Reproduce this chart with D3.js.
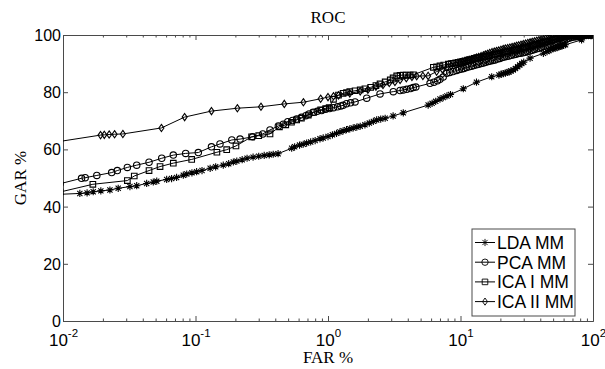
<!DOCTYPE html>
<html>
<head>
<meta charset="utf-8">
<title>ROC</title>
<script src="https://cdn.jsdelivr.net/npm/d3@7"></script>
<style>
  body { margin: 0; background: #fff; }
  svg { display: block; }
</style>
</head>
<body>
<div id="chart"></div>
<script>
// series: [FAR %, GAR %]
var ldaMM = [[0.0095, 44.3], [0.0134, 44.6], [0.0152, 44.8], [0.0169, 45.2], [0.0193, 45.5], [0.0226, 45.8],
  [0.0261, 46.4], [0.032, 47.0], [0.036, 47.3], [0.0428, 48.1], [0.048, 48.6], [0.051, 48.9], [0.0606, 49.5],
  [0.066, 49.8], [0.072, 50.2], [0.0809, 51.0], [0.0859, 51.4], [0.094, 51.8], [0.102, 52.2], [0.112, 52.6],
  [0.129, 53.4], [0.142, 53.9], [0.162, 54.5], [0.178, 55.0], [0.193, 55.6], [0.205, 55.9], [0.225, 56.4],
  [0.245, 56.9], [0.272, 57.3], [0.30, 57.6], [0.33, 57.9], [0.36, 58.1], [0.386, 58.3], [0.42, 58.5],
  [0.532, 60.4], [0.56, 60.9], [0.61, 61.5], [0.65, 61.8], [0.69, 62.2], [0.74, 62.6], [0.80, 63.1],
  [0.87, 63.7], [0.92, 64.0], [1.0, 64.5], [1.08, 65.1], [1.16, 65.6], [1.23, 66.1], [1.30, 66.5],
  [1.38, 66.9], [1.46, 67.2], [1.55, 67.5], [1.65, 67.8], [1.75, 68.1], [1.9, 68.6], [2.05, 69.2],
  [2.2, 69.8], [2.33, 70.3], [2.5, 70.6], [2.7, 70.9], [3.1, 71.7], [3.7, 72.8], [5.7, 75.5], [6.1, 76.1],
  [6.5, 76.8], [7.0, 77.6], [7.4, 78.1], [7.9, 78.7], [8.4, 79.2], [10.5, 81.2], [13.2, 83.5], [17.2, 85.4],
  [19.5, 86.0], [20.3, 86.3], [21.0, 86.5], [21.8, 86.7], [22.5, 86.9], [23.2, 87.1], [24.0, 87.4],
  [25.0, 87.8], [26.0, 88.3], [27.0, 88.9], [28.0, 89.5], [29.0, 90.0], [30.0, 90.5], [33.5, 91.9],
  [42.2, 93.6], [45.0, 94.2], [46.5, 94.6], [48.0, 94.9], [50.0, 95.2], [51.6, 95.4], [53.5, 95.6],
  [55.0, 95.8], [56.5, 96.0], [58.0, 96.2], [60.0, 96.4], [62.0, 96.6], [82.0, 98.3], [97.8, 99.8], [105, 100]];

var pcaMM = [[0.0095, 48.0], [0.0138, 49.9], [0.0147, 50.1], [0.018, 50.9], [0.0233, 51.9], [0.0257, 52.6],
  [0.0306, 53.7], [0.036, 54.5], [0.0446, 55.5], [0.0556, 56.9], [0.068, 58.0], [0.0843, 58.6], [0.105, 58.9],
  [0.132, 60.9], [0.153, 61.9], [0.188, 63.3], [0.217, 63.6], [0.27, 64.4], [0.322, 65.4], [0.365, 66.8],
  [0.422, 68.2], [0.46, 68.8], [0.497, 69.7], [0.54, 70.1], [0.58, 70.6], [0.63, 71.2], [0.68, 71.8],
  [0.72, 72.4], [0.774, 73.0], [0.83, 73.3], [0.895, 73.6], [0.96, 74.0], [1.03, 74.3], [1.10, 74.6],
  [1.18, 74.9], [1.25, 75.2], [1.30, 75.4], [1.38, 76.0], [1.48, 76.3], [1.60, 76.6], [1.96, 77.9],
  [2.47, 79.4], [3.11, 80.2], [3.5, 80.6], [3.7, 80.8], [3.93, 81.0], [4.2, 81.3], [4.4, 81.6], [4.6, 81.8],
  [5.89, 83.1], [6.3, 83.5], [6.7, 84.0], [7.0, 84.5], [7.4, 85.3], [7.87, 86.6], [8.3, 86.9], [8.8, 87.2],
  [9.35, 87.6], [9.8, 87.9], [10.2, 88.1], [10.6, 88.3], [11.1, 88.6], [11.6, 88.9], [12.1, 89.1],
  [12.6, 89.3], [13.2, 89.6], [13.7, 89.8], [14.3, 90.0], [14.9, 90.2], [15.5, 90.5], [16.2, 90.7],
  [16.8, 90.9], [17.5, 91.1], [18.2, 91.3], [19.0, 91.6], [19.8, 91.8], [20.6, 92.1], [21.4, 92.3],
  [22.3, 92.5], [23.2, 92.7], [24.2, 92.9], [25.2, 93.1], [26.2, 93.3], [27.3, 93.5], [28.4, 93.6],
  [29.6, 93.8], [30.8, 94.0], [32.0, 94.2], [33.3, 94.4], [34.7, 94.7], [36.1, 94.9], [37.6, 95.2],
  [39.1, 95.4], [40.7, 95.7], [42.4, 96.0], [44.1, 96.2], [45.9, 96.5], [47.8, 96.8], [49.8, 97.1],
  [51.8, 97.4], [53.9, 97.6], [56.1, 97.9], [58.4, 98.2], [60.8, 98.4], [63.3, 98.6], [65.9, 98.9],
  [68.6, 99.1], [71.4, 99.3], [74.3, 99.4], [77.4, 99.5], [80.5, 99.6], [83.8, 99.8], [87.3, 99.9],
  [90.8, 100], [94.6, 100], [98.4, 100], [105, 100]];

var icaIMM = [[0.0095, 45.1], [0.0168, 47.8], [0.0306, 49.1], [0.0345, 50.7], [0.0446, 52.6], [0.054, 54.0],
  [0.068, 55.2], [0.0936, 56.5], [0.145, 59.0], [0.172, 59.9], [0.202, 61.2], [0.265, 64.4], [0.30, 64.8],
  [0.365, 65.4], [0.43, 67.9], [0.48, 68.6], [0.53, 69.5], [0.58, 70.3], [0.63, 70.9], [0.71, 72.0],
  [0.78, 72.9], [0.88, 73.8], [0.96, 74.3], [1.02, 74.6], [1.10, 77.5], [1.2, 79.0], [1.30, 79.6],
  [1.38, 79.9], [1.46, 80.2], [1.6, 80.5], [1.75, 80.8], [1.9, 81.2], [2.10, 81.7], [2.3, 82.3],
  [2.47, 82.9], [2.7, 83.6], [2.95, 84.3], [3.1, 85.0], [3.3, 85.7], [3.5, 85.9], [3.7, 86.0], [3.9, 86.0],
  [4.17, 86.0], [4.4, 86.1], [6.24, 88.7], [6.6, 88.9], [7.0, 89.2], [7.47, 89.5], [8.1, 89.8], [8.5, 90.0],
  [8.8, 90.1], [9.2, 90.3], [9.6, 90.4], [10.0, 90.6], [10.4, 90.8], [10.8, 91.0], [11.3, 91.2],
  [11.7, 91.4], [12.2, 91.6], [12.7, 91.8], [13.2, 92.0], [13.7, 92.1], [14.3, 92.3], [14.9, 92.4],
  [15.4, 92.5], [16.0, 92.6], [16.6, 92.8], [17.3, 93.0], [18.0, 93.2], [18.7, 93.3], [19.4, 93.5],
  [20.2, 93.7], [21.0, 93.9], [21.8, 94.0], [22.7, 94.2], [23.6, 94.4], [24.5, 94.5], [25.5, 94.7],
  [26.5, 94.8], [27.5, 95.0], [28.6, 95.2], [29.8, 95.4], [31.0, 95.6], [32.2, 95.8], [33.5, 96.0],
  [34.8, 96.2], [36.2, 96.5], [37.6, 96.7], [39.1, 96.9], [40.6, 97.1], [42.2, 97.4], [43.9, 97.6],
  [45.6, 97.8], [47.4, 98.0], [49.3, 98.3], [51.3, 98.5], [53.3, 98.7], [55.4, 98.9], [57.6, 99.1],
  [60.0, 99.3], [62.4, 99.4], [65.0, 99.6], [67.6, 99.7], [70.3, 99.8], [73.1, 99.9], [76.0, 99.9],
  [79.0, 100], [82.2, 100], [85.5, 100], [89.0, 100], [92.5, 100], [96.2, 100], [105, 100]];

var icaIIMM = [[0.0095, 62.8], [0.0192, 65.0], [0.0205, 65.1], [0.0223, 65.2], [0.0245, 65.3], [0.0283, 65.4],
  [0.0553, 67.5], [0.0828, 71.3], [0.132, 73.4], [0.207, 74.4], [0.312, 74.9], [0.468, 75.9], [0.652, 76.5],
  [0.88, 77.7], [1.0, 78.3], [1.1, 78.6], [1.2, 78.9], [1.46, 79.6], [1.75, 80.3], [2.0, 80.9], [2.3, 81.9],
  [2.6, 82.5], [2.9, 83.2], [3.2, 83.6], [3.5, 84.3], [3.9, 84.9], [4.3, 85.3], [4.67, 85.6], [5.2, 85.7],
  [5.7, 85.7], [6.6, 87.2], [7.3, 88.0], [7.9, 88.7], [8.5, 89.2], [9.2, 89.7], [10.0, 90.2], [10.4, 90.5],
  [10.8, 90.7], [11.3, 91.0], [11.7, 91.2], [12.2, 91.5], [12.7, 91.8], [13.2, 92.1], [13.7, 92.3],
  [14.3, 92.6], [14.9, 92.9], [15.4, 93.2], [16.0, 93.4], [16.6, 93.7], [17.3, 94.0], [18.0, 94.2],
  [18.7, 94.4], [19.4, 94.6], [20.2, 94.8], [21.0, 95.1], [21.8, 95.3], [22.7, 95.4], [23.6, 95.6],
  [24.5, 95.8], [25.5, 96.0], [26.5, 96.2], [27.5, 96.4], [28.6, 96.6], [29.8, 96.8], [31.0, 97.0],
  [32.2, 97.2], [33.5, 97.4], [34.8, 97.6], [36.2, 97.8], [37.6, 98.0], [39.1, 98.2], [40.6, 98.3],
  [42.2, 98.5], [43.9, 98.7], [45.6, 98.8], [47.4, 99.0], [49.3, 99.1], [51.3, 99.2], [53.3, 99.4],
  [55.4, 99.5], [57.6, 99.6], [60.0, 99.7], [62.4, 99.8], [65.0, 99.9], [67.6, 99.9], [70.3, 100],
  [73.1, 100], [76.0, 100], [79.0, 100], [82.2, 100], [85.5, 100], [89.0, 100], [92.5, 100], [96.2, 100],
  [105, 100]];

var seriesNames = ["LDA MM", "PCA MM", "ICA I MM", "ICA II MM"];
var seriesData = [ldaMM, pcaMM, icaIMM, icaIIMM];
var seriesMarkers = ["star", "circle", "square", "diamond"];

var xMajorTicks = [0.01, 0.1, 1, 10, 100];
var xTickExponents = ["-2", "-1", "0", "1", "2"];
var yTicks = [0, 20, 40, 60, 80, 100];

var width = 605, height = 369;
var margin = { left: 63, right: 12, top: 35, bottom: 48 };
var plotW = width - margin.left - margin.right;
var plotH = height - margin.top - margin.bottom;
var axisColor = "#4a4a4a";
var sans = "'Liberation Sans', Arial, Helvetica, sans-serif";
var serif = "'Liberation Serif', 'Times New Roman', serif";

var svg = d3.select("#chart").append("svg").attr("width", width).attr("height", height);
var g = svg.append("g").attr("transform", "translate(" + margin.left + "," + margin.top + ")");

var x = d3.scaleLog().domain([0.01, 100]).range([0, plotW]);
var y = d3.scaleLinear().domain([0, 100]).range([plotH, 0]);

// minor ticks 2..9 of each decade
var xMinorTicks = [];
for (var e = -2; e < 2; e++) {
  for (var m = 2; m < 10; m++) xMinorTicks.push(m * Math.pow(10, e));
}

function styleAxis(sel) {
  sel.select(".domain").attr("stroke", axisColor);
  sel.selectAll(".tick line").attr("stroke", axisColor);
}

// minor ticks bottom/top
g.append("g").attr("transform", "translate(0," + plotH + ")")
  .call(d3.axisBottom(x).tickValues(xMinorTicks).tickSize(-2.5).tickSizeOuter(0).tickFormat(""))
  .call(styleAxis);
g.append("g")
  .call(d3.axisTop(x).tickValues(xMinorTicks).tickSize(-2.5).tickSizeOuter(0).tickFormat(""))
  .call(styleAxis);

// major x ticks
var gx = g.append("g").attr("transform", "translate(0," + plotH + ")")
  .call(d3.axisBottom(x).tickValues(xMajorTicks).tickSize(-5).tickSizeOuter(0).tickFormat(""))
  .call(styleAxis);
gx.selectAll(".tick text").remove();
gx.selectAll(".tick").each(function (d, i) {
  var t = d3.select(this).append("text")
    .attr("fill", "#000")
    .attr("font-family", sans)
    .attr("font-size", 17)
    .attr("text-anchor", "middle")
    .attr("y", 24.5);
  t.append("tspan").text("10");
  t.append("tspan").attr("font-size", 11.5).attr("dy", -9).text(xTickExponents[i]);
});
g.append("g")
  .call(d3.axisTop(x).tickValues(xMajorTicks).tickSize(-5).tickSizeOuter(0).tickFormat(""))
  .call(styleAxis);

// y axes
var gy = g.append("g")
  .call(d3.axisLeft(y).tickValues(yTicks).tickSize(-5).tickSizeOuter(0).tickPadding(2))
  .call(styleAxis);
gy.selectAll(".tick text")
  .attr("fill", "#000")
  .attr("font-family", sans)
  .attr("font-size", 16)
  .attr("dy", "0.34em");
g.append("g").attr("transform", "translate(" + plotW + ",0)")
  .call(d3.axisRight(y).tickValues(yTicks).tickSize(-5).tickSizeOuter(0).tickFormat(""))
  .call(styleAxis);

// curves
svg.append("defs").append("clipPath").attr("id", "plotClip")
  .append("rect").attr("x", 0).attr("y", 0).attr("width", plotW).attr("height", plotH);

var line = d3.line()
  .x(function (d) { return x(d[0]); })
  .y(function (d) { return y(d[1]); });

function markerPath(type) {
  if (type == "star") return "M-3.6,0H3.6M0,-3.6V3.6M-2.6,-2.6L2.6,2.6M-2.6,2.6L2.6,-2.6";
  if (type == "circle") return "M3.2,0A3.2,3.2 0 1,1 -3.2,0A3.2,3.2 0 1,1 3.2,0Z";
  if (type == "square") return "M-2.8,-2.8H2.8V2.8H-2.8Z";
  return "M0,-3.6L2.5,0L0,3.6L-2.5,0Z";
}

var plot = g.append("g").attr("clip-path", "url(#plotClip)");
seriesData.forEach(function (data, i) {
  plot.append("path")
    .datum(data)
    .attr("fill", "none")
    .attr("stroke", "#000")
    .attr("stroke-width", 1)
    .attr("d", line);
  plot.append("g").selectAll("path")
    .data(data)
    .enter().append("path")
    .attr("transform", function (d) { return "translate(" + x(d[0]) + "," + y(d[1]) + ")"; })
    .attr("d", markerPath(seriesMarkers[i]))
    .attr("fill", "none")
    .attr("stroke", "#000")
    .attr("stroke-width", 1.1);
});

// legend
var legend = svg.append("g").attr("transform", "translate(472,229)");
legend.append("rect")
  .attr("width", 103).attr("height", 87)
  .attr("fill", "#fff").attr("stroke", axisColor);
seriesNames.forEach(function (name, i) {
  var row = legend.append("g").attr("transform", "translate(0," + (13.5 + i * 19.7) + ")");
  row.append("line").attr("x1", 3).attr("x2", 23).attr("stroke", "#000");
  row.append("path").attr("transform", "translate(13,0)")
    .attr("d", markerPath(seriesMarkers[i]))
    .attr("fill", "none").attr("stroke", "#000").attr("stroke-width", 0.9);
  row.append("text")
    .attr("x", 25).attr("dy", "0.36em")
    .attr("font-family", sans).attr("font-size", 17.5)
    .text(name);
});

// titles
svg.append("text")
  .attr("x", margin.left + plotW / 2).attr("y", 23)
  .attr("text-anchor", "middle")
  .attr("font-family", serif).attr("font-size", 17)
  .text("ROC");
svg.append("text")
  .attr("x", margin.left + plotW / 2).attr("y", 363)
  .attr("text-anchor", "middle")
  .attr("font-family", serif).attr("font-size", 17)
  .text("FAR %");
svg.append("text")
  .attr("transform", "translate(26," + (margin.top + plotH / 2) + ") rotate(-90)")
  .attr("text-anchor", "middle")
  .attr("font-family", serif).attr("font-size", 17)
  .text("GAR %");
</script>
</body>
</html>
